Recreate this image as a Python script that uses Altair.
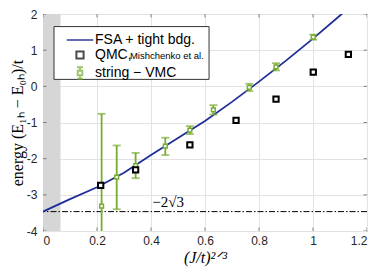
import altair as alt
import pandas as pd
import math

# ---- data ----
series_names = ["FSA + tight bdg.", "QMC,", "string \u2212 VMC"]

fsa_x = [0, 0.1, 0.2, 0.3, 0.4, 0.5, 0.6, 0.7, 0.8, 0.9, 1.0, 1.1, 1.12]
fsa_y = [-3.464, -3.12, -2.79, -2.39, -1.90, -1.43, -0.96, -0.43, 0.13, 0.71, 1.32, 1.96, 2.09]

qmc_x = [0.2136, 0.343, 0.544, 0.715, 0.863, 1.001, 1.131]
qmc_y = [-2.74, -2.31, -1.616, -0.94, -0.356, 0.39, 0.885]

vmc_x = [0.217, 0.273, 0.343, 0.453, 0.544, 0.631, 0.764, 0.863, 1.001]
vmc_y = [-3.31, -2.51, -2.19, -1.65, -1.21, -0.65, -0.03, 0.54, 1.36]
vmc_lo = [-5.86, -3.40, -2.54, -1.90, -1.32, -0.78, -0.13, 0.44, 1.29]
vmc_hi = [-0.76, -1.635, -1.84, -1.42, -1.10, -0.52, 0.07, 0.64, 1.43]

band_x = [0.0]
band_x2 = [0.065]
band_y = [-4.0]
band_y2 = [2.0]

limit_y = [-2 * math.sqrt(3)]
limit_label = ["\u22122\u221a3"]
limit_label_x = [0.405]
limit_label_y = [-3.2]

legend_box_x = [0.0407]
legend_box_x2 = [0.615]
legend_box_y = [0.192]
legend_box_y2 = [1.652]

note_text = ["Mishchenko et al."]
note_x = [0.322]
note_y = [0.85]

x_ticks = [0, 0.2, 0.4, 0.6, 0.8, 1.0, 1.2]
y_ticks = [-4, -3, -2, -1, 0, 1, 2]
x_edges = [0.0, 1.2]
y_edges = [-4.0, 2.0]

BLUE = "#1f2f9a"
GREEN = "#77ac30"
BLACK = "#000000"
FRAME = "#555555"

# ---- scales/axes ----
xs = alt.Scale(domain=[0, 1.2], nice=False, zero=False)
ys = alt.Scale(domain=[-4, 2], nice=False, zero=False)

x_axis = alt.Axis(values=x_ticks, labelExpr="format(datum.value, '~g')", title="(J/t)\u00b2\u141f\u00b3",
                  titleFont="Liberation Serif", titleFontStyle="italic", titleFontSize=16,
                  titleFontWeight="normal", titlePadding=3, labelPadding=4, labelOverlap=False)
y_axis = alt.Axis(values=y_ticks, labelExpr="replace(format(datum.value, '~g'), '\u2212', '-')",
                  title="energy (E\u2081\u2095 \u2212 E\u2080\u2095)/t",
                  titleFont="Liberation Serif", titleFontSize=16, titleFontWeight="normal",
                  titlePadding=1, labelPadding=6, labelOverlap=False)


def X(field):
    return alt.X(field, scale=xs, axis=x_axis)


def Y(field):
    return alt.Y(field, scale=ys, axis=y_axis)


fsa_df = pd.DataFrame({"x": fsa_x, "y": fsa_y})
qmc_df = pd.DataFrame({"x": qmc_x, "y": qmc_y})
vmc_df = pd.DataFrame({"x": vmc_x, "y": vmc_y, "lo": vmc_lo, "hi": vmc_hi})
band_df = pd.DataFrame({"x": band_x, "x2": band_x2, "y": band_y, "y2": band_y2})
limit_df = pd.DataFrame({"y": limit_y})
label_df = pd.DataFrame({"x": limit_label_x, "y": limit_label_y, "t": limit_label})
box_df = pd.DataFrame({"x": legend_box_x, "x2": legend_box_x2, "y": legend_box_y, "y2": legend_box_y2})
note_df = pd.DataFrame({"x": note_x, "y": note_y, "t": note_text})
legend_df = pd.DataFrame({"series": series_names, "x": [-1.0] * 3, "y": [0.0] * 3})
ytick_df = pd.DataFrame([{"x": e, "y": v} for e in x_edges for v in y_ticks])
xtick_df = pd.DataFrame([{"x": v, "y": e} for e in y_edges for v in x_ticks])

band = alt.Chart(band_df).mark_rect(color="#d6d6d6", clip=True).encode(
    x=X("x:Q"), x2="x2:Q", y=Y("y:Q"), y2="y2:Q")

limit = alt.Chart(limit_df).mark_rule(color="black", strokeWidth=1, strokeDash=[6, 2, 1.5, 2]).encode(
    y=Y("y:Q"))

limit_text = alt.Chart(label_df).mark_text(font="Liberation Serif", fontSize=15, align="left",
                                            baseline="middle", color="black").encode(
    x=X("x:Q"), y=Y("y:Q"), text="t:N")

fsa = alt.Chart(fsa_df).mark_line(color=BLUE, strokeWidth=1.8, clip=True).encode(
    x=X("x:Q"), y=Y("y:Q"))

bars = alt.Chart(vmc_df).mark_rule(color=GREEN, strokeWidth=1.8, clip=True).encode(
    x=X("x:Q"), y=Y("lo:Q"), y2="hi:Q")
cap_lo = alt.Chart(vmc_df).mark_tick(color=GREEN, orient="horizontal", size=8, thickness=1.8, clip=True).encode(
    x=X("x:Q"), y=Y("lo:Q"))
cap_hi = alt.Chart(vmc_df).mark_tick(color=GREEN, orient="horizontal", size=8, thickness=1.8, clip=True).encode(
    x=X("x:Q"), y=Y("hi:Q"))
vmc_pts = alt.Chart(vmc_df).mark_point(shape="square", filled=True, fill="white", stroke=GREEN,
                                       strokeWidth=1.5, size=14, opacity=1, clip=True).encode(
    x=X("x:Q"), y=Y("y:Q"))

qmc_pts = alt.Chart(qmc_df).mark_point(shape="square", filled=True, fill="white", stroke=BLACK,
                                       strokeWidth=2, size=28, opacity=1, clip=True).encode(
    x=X("x:Q"), y=Y("y:Q"))

# inward ticks on all four sides of the frame
yticks_in = alt.Chart(ytick_df).mark_tick(color=FRAME, orient="horizontal", size=7, thickness=1, clip=True).encode(
    x=X("x:Q"), y=Y("y:Q"))
xticks_in = alt.Chart(xtick_df).mark_tick(color=FRAME, orient="vertical", size=7, thickness=1, clip=True).encode(
    x=X("x:Q"), y=Y("y:Q"))

box = alt.Chart(box_df).mark_rect(fill="white", stroke="#333333", strokeWidth=1).encode(
    x=X("x:Q"), x2="x2:Q", y=Y("y:Q"), y2="y2:Q")

paths = [
    "M-2.2,0H2.2",
    "M-0.6,-0.6H0.6V0.6H-0.6Z",
    "M-0.5,-0.95H0.5M0,-0.95V-0.38M0,0.38V0.95M-0.5,0.95H0.5M-0.38,-0.38H0.38V0.38H-0.38Z",
]
leg = alt.Legend(title=None, orient="none", legendX=11, legendY=19, padding=0,
                 symbolSize=144, symbolStrokeWidth=2, symbolOffset=19, labelOffset=8,
                 labelFont="Liberation Sans", labelFontSize=14, labelColor="black",
                 rowPadding=0, labelLimit=300)
legend_layer = alt.Chart(legend_df).mark_point(filled=False, strokeWidth=2, clip=True).encode(
    x=X("x:Q"), y=Y("y:Q"),
    color=alt.Color("series:N", scale=alt.Scale(domain=series_names, range=[BLUE, BLACK, GREEN]), legend=leg),
    shape=alt.Shape("series:N", scale=alt.Scale(domain=series_names, range=paths), legend=leg))

note = alt.Chart(note_df).mark_text(font="Liberation Sans", fontSize=9.5, align="left",
                                    baseline="middle", color="black").encode(
    x=X("x:Q"), y=Y("y:Q"), text="t:N")

chart = alt.layer(band, limit, limit_text, fsa, bars, cap_lo, cap_hi, vmc_pts, qmc_pts,
                  yticks_in, xticks_in, box, legend_layer, note).properties(
    width=324, height=217,
    autosize=alt.AutoSizeParams(type="none"),
    padding={"left": 35, "top": 6, "right": 7, "bottom": 36},
).configure_view(stroke=FRAME, strokeWidth=1).configure_axis(
    grid=True, gridColor="#e3e3e3", gridWidth=1, domain=False, ticks=False,
    labelFont="Liberation Sans", labelFontSize=12, labelColor="#262626", titleColor="black",
)

chart.save("out.html", embed_options={"renderer": "svg", "actions": False})
